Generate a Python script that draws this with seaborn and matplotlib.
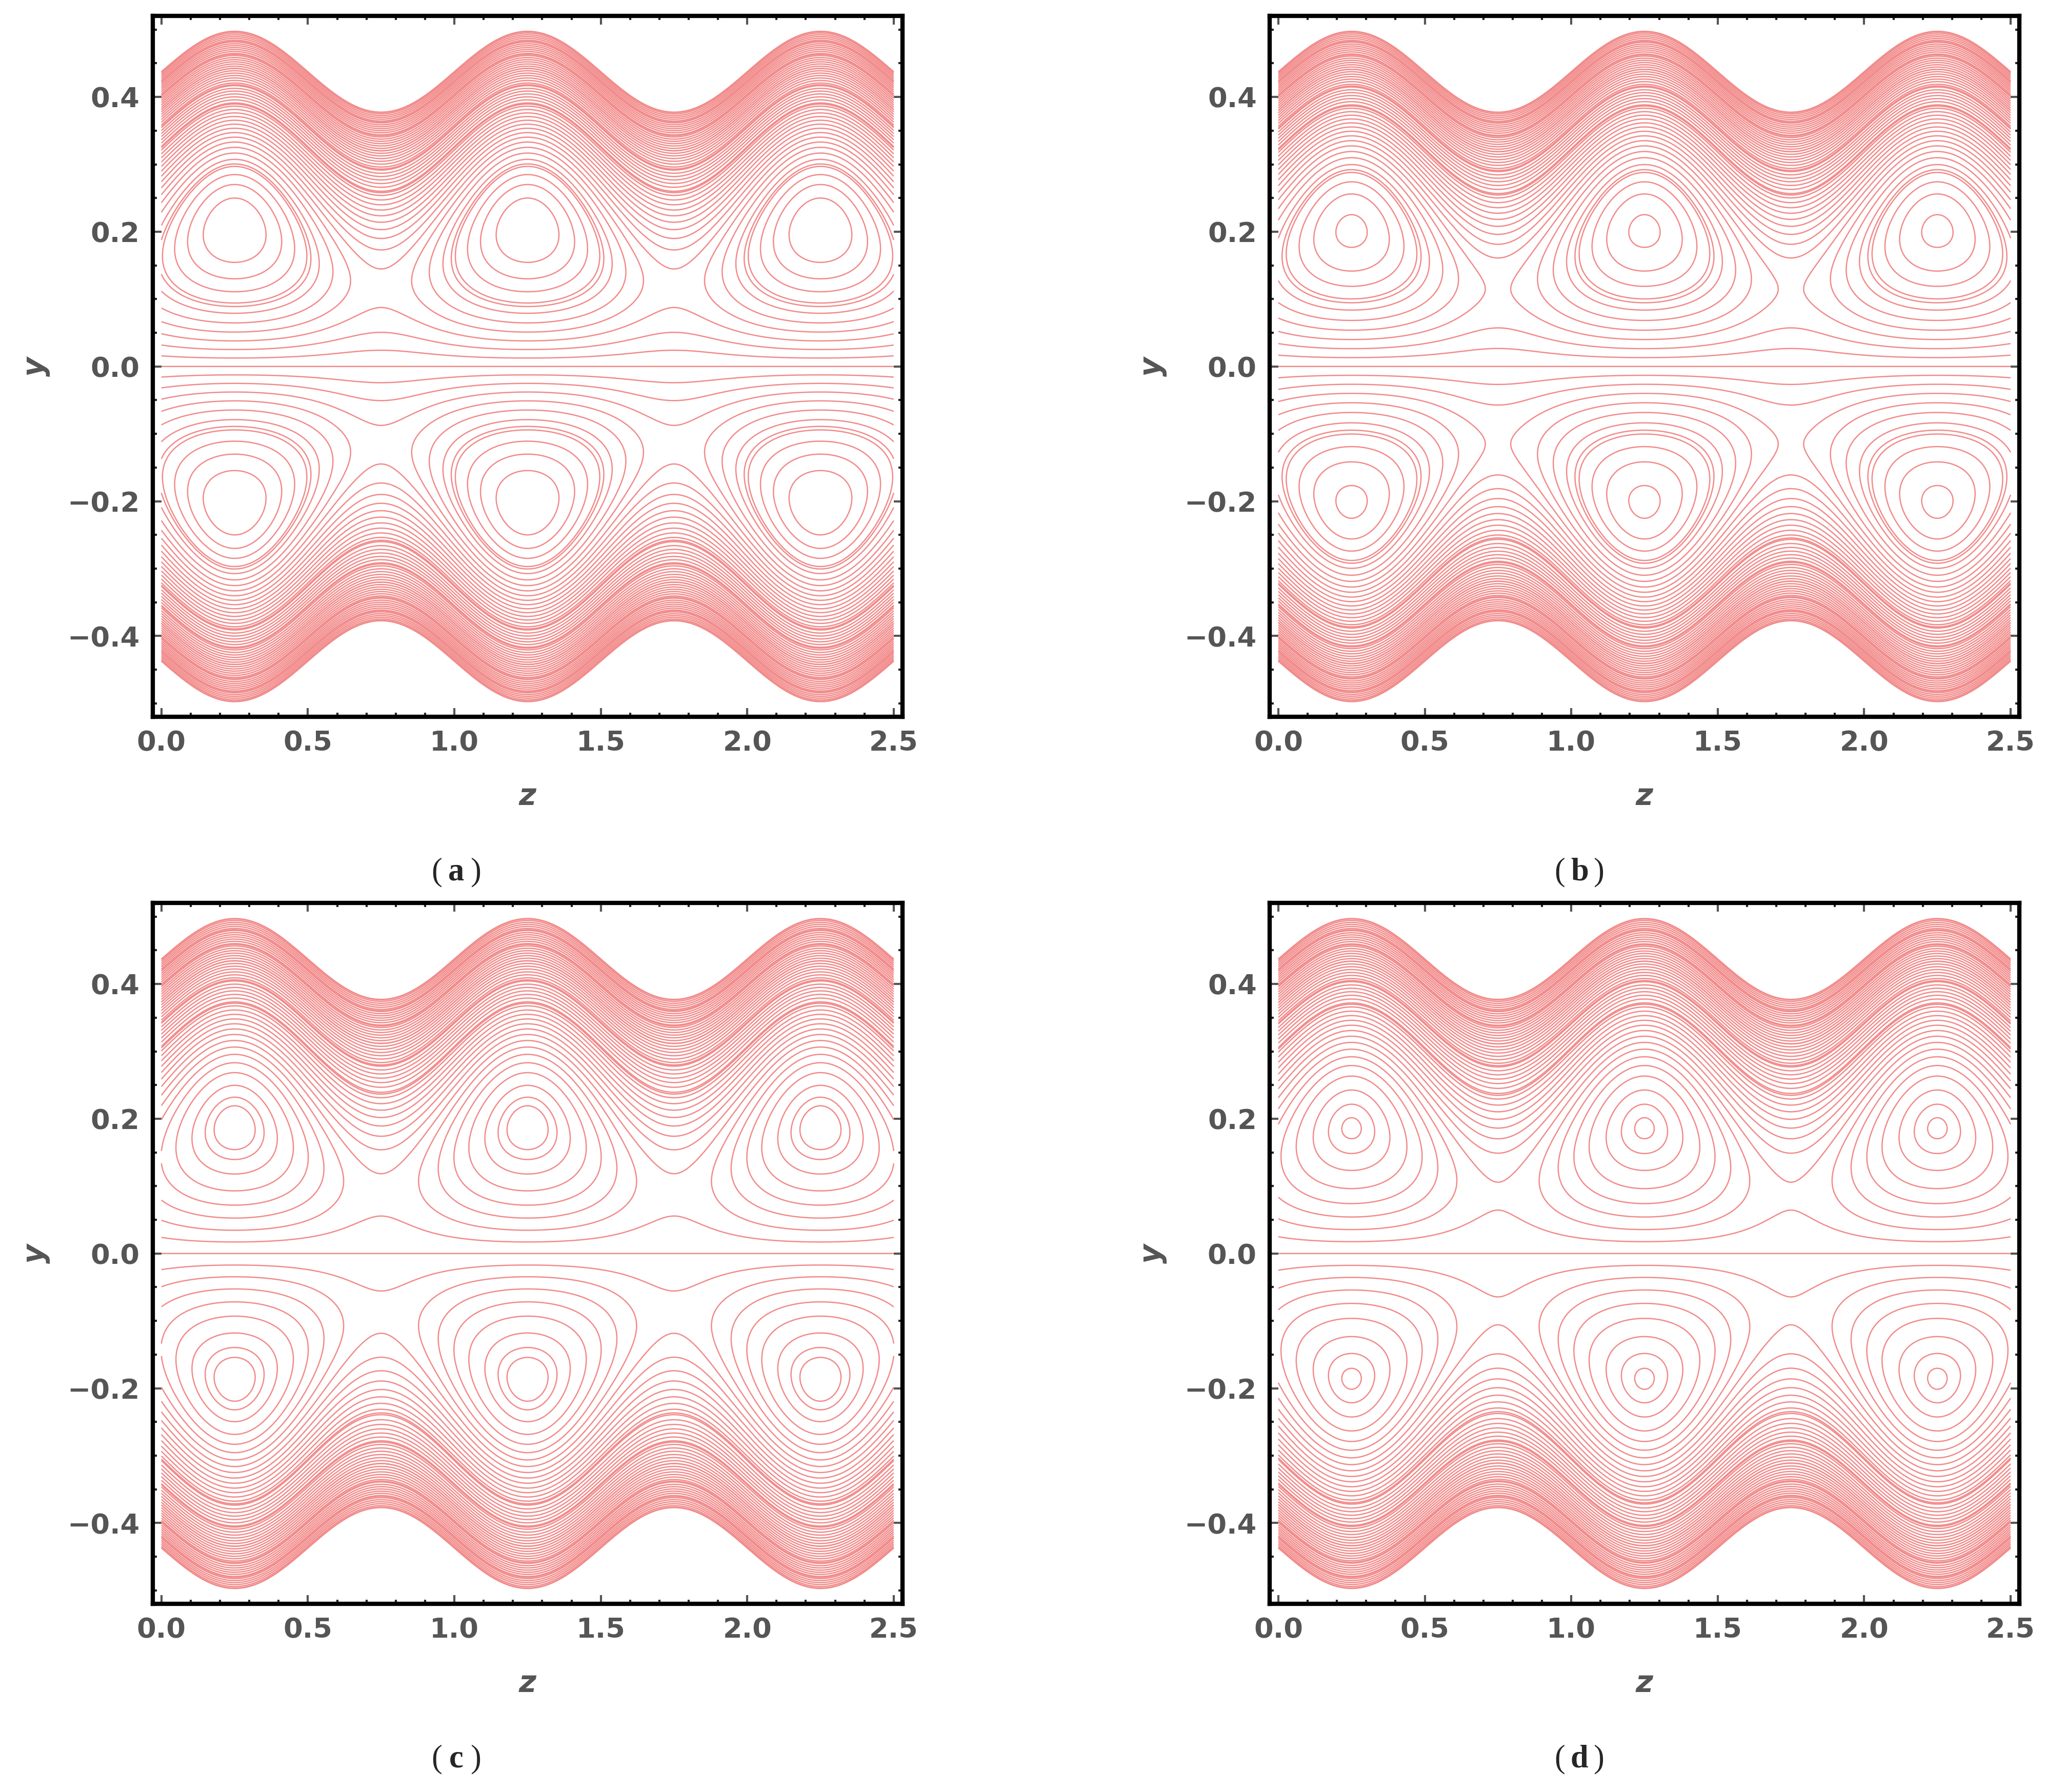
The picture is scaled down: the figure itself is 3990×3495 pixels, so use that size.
import numpy as np
import matplotlib
matplotlib.use("Agg")
import matplotlib.pyplot as plt
import seaborn as sns

sns.set_theme(style="white")
plt.rcParams['font.family'] = ['DejaVu Sans']

panel_labels = ["a", "b", "c", "d"]
flow_rates = [-0.100, -0.102, -0.112, -0.113]   # F for each panel
mean_width = 0.44
amplitude = 0.06
x_ticks = [0.0, 0.5, 1.0, 1.5, 2.0, 2.5]
y_ticks = [-0.4, -0.2, 0.0, 0.2, 0.4]
n_inner = 6
n_wall = 40

fig = plt.figure(figsize=(13.3, 11.65), dpi=300)
boxes = [(0.0746, 0.600), (0.6205, 0.600), (0.0746, 0.105), (0.6205, 0.105)]
caps = [(0.223, 0.509), (0.772, 0.509), (0.223, 0.014), (0.772, 0.014)]
W, H = 0.3665, 0.391

z = np.linspace(0, 2.5, 800)
yy = np.linspace(-0.5, 0.5, 800)
Z, Y = np.meshgrid(z, yy)
h = mean_width + amplitude * np.cos(2 * np.pi * (Z - 0.25))
col = "#f28b8b"

for (l, b), (cx, cy), lab, F in zip(boxes, caps, panel_labels, flow_rates):
    ax = fig.add_axes([l, b, W, H])
    eta = Y / h
    psi = (F + h) / 2 * (3 * eta - eta ** 3) - h * eta
    psi = np.where(np.abs(eta) <= 1, psi, np.nan)
    pmax = np.nanmax(psi)
    inner = np.linspace(0, pmax, n_inner + 1)[1:-1]
    inner = np.append(inner, pmax * 0.97)
    wall = np.linspace(F, 0, n_wall + 1)[1:-1]
    pos = np.concatenate([wall, inner])
    levels = np.unique(np.concatenate([pos, -pos, [0.0]]))
    ax.contour(Z, Y, psi, levels=levels, colors=col, linewidths=0.6,
               negative_linestyles="solid")
    ax.set_xlim(-0.03, 2.53)
    ax.set_ylim(-0.52, 0.52)
    ax.set_xticks(x_ticks)
    ax.set_yticks(y_ticks)
    ax.set_xticklabels([f"{v:.1f}" for v in x_ticks])
    ax.set_yticklabels([f"{v:.1f}".replace("-", "\u2212") for v in y_ticks])
    ax.tick_params(labelsize=13, colors="#555555", direction="in", length=4,
                   top=True, right=True, bottom=True, left=True, width=1, pad=6)
    for t in ax.get_xticklabels() + ax.get_yticklabels():
        t.set_fontweight("bold")
    ax.set_xticks(np.arange(0, 2.51, 0.1), minor=True)
    ax.set_yticks(np.arange(-0.5, 0.51, 0.05), minor=True)
    ax.tick_params(which="minor", direction="in", length=2, top=True, right=True,
                   bottom=True, left=True)
    for s in ax.spines.values():
        s.set_linewidth(2)
        s.set_color("black")
    ax.set_xlabel("z", fontsize=14, style="italic", fontweight="bold", color="#555555", labelpad=12)
    ax.set_ylabel("y", fontsize=14, style="italic", fontweight="bold", color="#555555", labelpad=8)
    fig.text(cx - 0.007, cy, "(", fontsize=15, family="Liberation Serif", ha="right")
    fig.text(cx, cy, lab, fontsize=15, family="Liberation Serif", fontweight="bold", ha="center")
    fig.text(cx + 0.007, cy, ")", fontsize=15, family="Liberation Serif", ha="left")

fig.savefig("out.png", dpi=300)
